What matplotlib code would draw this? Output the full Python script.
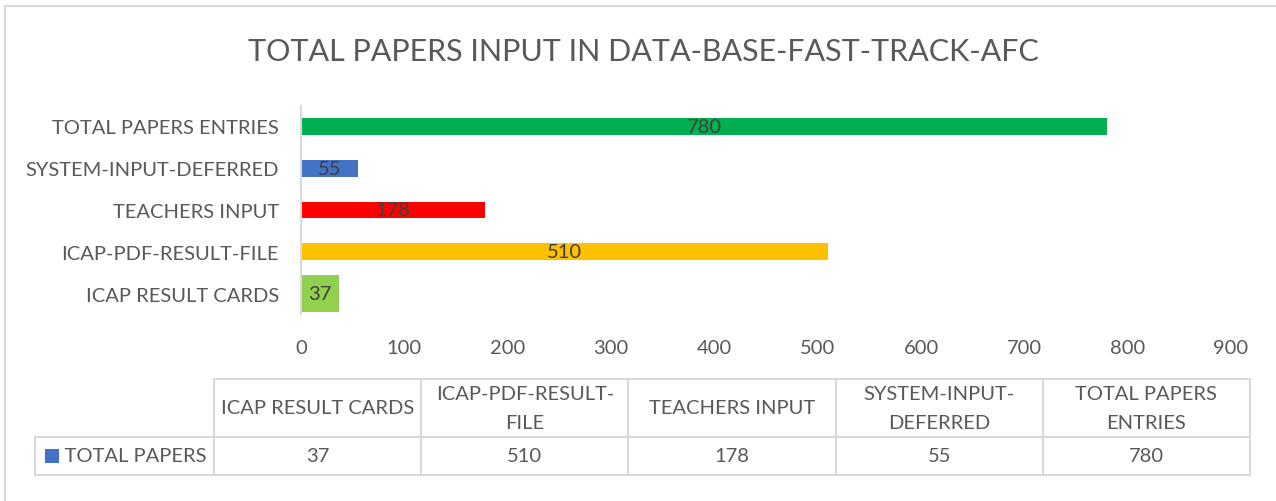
import textwrap
import matplotlib
matplotlib.use('Agg')
import matplotlib.pyplot as plt
from matplotlib.lines import Line2D
from matplotlib.patches import Rectangle

plt.rcParams['font.family'] = ['Lato', 'DejaVu Sans']

title = 'TOTAL PAPERS INPUT IN DATA-BASE-FAST-TRACK-AFC'
series_name = 'TOTAL PAPERS'
categories = ['ICAP RESULT CARDS', 'ICAP-PDF-RESULT-FILE', 'TEACHERS INPUT',
              'SYSTEM-INPUT-DEFERRED', 'TOTAL PAPERS ENTRIES']
values = [37, 510, 178, 55, 780]
x_ticks = [0, 100, 200, 300, 400, 500, 600, 700, 800, 900]

bar_colors = ['#92D050', '#FFC000', '#FF0000', '#4472C4', '#00B050']
bar_heights = [0.89, 0.4, 0.4, 0.4, 0.4]

TXT = '#595959'
GRID = '#D9D9D9'
W, H = 1276, 502
FS = 14.5

fig = plt.figure(figsize=(W / 100, H / 100), dpi=100)

# outer frame of the chart area
fig.add_artist(Line2D([5 / W, 5 / W], [0, 1 - 7 / H], transform=fig.transFigure, color=GRID, lw=1.5))
fig.add_artist(Line2D([5 / W, 1], [1 - 7 / H, 1 - 7 / H], transform=fig.transFigure, color=GRID, lw=1.5))

fig.text(643 / W, 1 - 52 / H, title, ha='center', va='center', fontsize=22, color=TXT)

ax = fig.add_axes([301 / W, 1 - 315.4 / H, (1231 - 301) / W, (315.4 - 106.6) / H])
ypos = list(range(len(categories)))
bars = ax.barh(ypos, values, height=bar_heights, color=bar_colors)
for rect, v in zip(bars, values):
    ax.text(rect.get_x() + rect.get_width() / 2, rect.get_y() + rect.get_height() / 2,
            str(v), ha='center', va='center', fontsize=FS, color='#404040')

ax.set_xlim(0, 900)
ax.set_ylim(-0.5, len(categories) - 0.5)
ax.set_xticks(x_ticks)
ax.set_yticks(ypos)
ax.set_yticklabels(categories)
ax.tick_params(axis='both', length=0, labelsize=FS, labelcolor=TXT)
ax.tick_params(axis='y', pad=16)
ax.tick_params(axis='x', pad=18)
for s in ['top', 'right', 'bottom']:
    ax.spines[s].set_visible(False)
ax.spines['left'].set_color(GRID)
ax.spines['left'].set_linewidth(1.5)

# data table under the chart (first column holds the series name)
tax = fig.add_axes([35 / W, 1 - 476 / H, (1250 - 35) / W, (476 - 380) / H])
tax.axis('off')
col_labels = [''] + [textwrap.fill(c, 17) for c in categories]
row = ['     ' + series_name] + [str(v) for v in values]
tbl = tax.table(cellText=[row], colLabels=col_labels, colWidths=[179] + [207] * 5,
                cellLoc='center', bbox=[0, 0, 1, 1])
tbl.auto_set_font_size(False)
tbl.set_fontsize(FS)
for (r, c), cell in tbl.get_celld().items():
    cell.set_edgecolor(GRID)
    cell.set_linewidth(1.5)
    cell.get_text().set_color(TXT)
    cell.set_height(58 if r == 0 else 38)
    if r == 0:
        cell.get_text().set_linespacing(1.85)
    if c == 0:
        cell.get_text().set_horizontalalignment('left')
        cell._loc = 'left'
        cell.PAD = 0.02
        if r == 0:
            cell.visible_edges = ''

# legend key in the row label cell
fig.add_artist(Rectangle((45 / W, 1 - 464 / H), 14 / W, 14 / H, transform=fig.transFigure,
                         color=bar_colors[3], lw=0))

fig.savefig('out.png', dpi=100, facecolor='white')
